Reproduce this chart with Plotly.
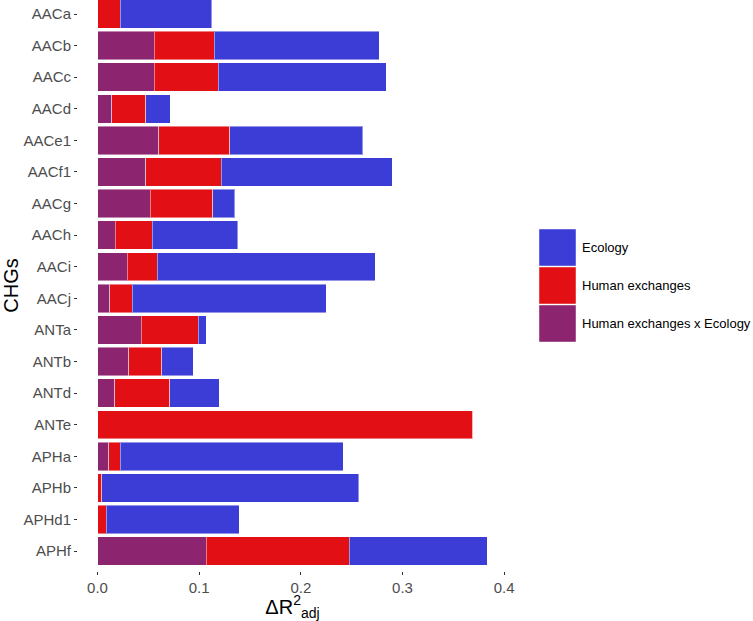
import plotly.graph_objects as go

categories = ["AACa", "AACb", "AACc", "AACd", "AACe1", "AACf1", "AACg", "AACh", "AACi",
              "AACj", "ANTa", "ANTb", "ANTd", "ANTe", "APHa", "APHb", "APHd1", "APHf"]
# segment values (Delta R2 adj)
interaction = [0.0, 0.0556, 0.0556, 0.0141, 0.060, 0.0472, 0.0518, 0.0174, 0.0292,
               0.0118, 0.0429, 0.0308, 0.0167, 0.0, 0.0111, 0.0, 0.0, 0.1068]
human = [0.0226, 0.0594, 0.0634, 0.0334, 0.070, 0.0747, 0.0615, 0.0366, 0.0294,
         0.0226, 0.0564, 0.0324, 0.0544, 0.369, 0.0112, 0.004, 0.0085, 0.1409]
ecology = [0.0897, 0.162, 0.165, 0.0242, 0.131, 0.1681, 0.0217, 0.084, 0.2144,
           0.1906, 0.0077, 0.0308, 0.0485, 0.0, 0.2192, 0.253, 0.131, 0.1359]
series_names = ["Ecology", "Human exchanges", "Human exchanges x Ecology"]
series_colors = ["#3C3CD6", "#E21014", "#8C2470"]
x_ticks = [0.0, 0.1, 0.2, 0.3, 0.4]

fig = go.Figure()
for name, vals, col in [(series_names[2], interaction, series_colors[2]),
                        (series_names[1], human, series_colors[1]),
                        (series_names[0], ecology, series_colors[0])]:
    fig.add_trace(go.Bar(
        y=categories, x=vals, name=name, orientation="h", width=0.9,
        marker=dict(color=col, line=dict(color="rgba(255,255,255,0.45)", width=1)),
        showlegend=False,
    ))

H_PLOT = 571
fig.update_layout(
    width=753, height=621,
    barmode="stack", bargap=0.1,
    plot_bgcolor="white", paper_bgcolor="white",
    margin=dict(l=78, r=246, t=0, b=621 - H_PLOT, autoexpand=False),
    font=dict(family="Liberation Sans, Arial, sans-serif", color="#4D4D4D", size=15),
    xaxis=dict(
        range=[-0.0192, 0.4028], tickvals=x_ticks,
        ticktext=[f"{v:.1f}" for v in x_ticks],
        showgrid=False, zeroline=False, showline=False, automargin=False,
        ticks="outside", ticklen=3, tickcolor="#333333",
        tickfont=dict(size=15, color="#4D4D4D"),
        title=dict(text="ΔR<sup>2</sup><sub>adj</sub>", font=dict(size=20, color="black"), standoff=3),
    ),
    yaxis=dict(
        categoryorder="array", categoryarray=categories,
        range=[17.63, -0.443],
        showgrid=False, zeroline=False, showline=False, automargin=False,
        ticks="outside", ticklen=3, tickcolor="#333333",
        tickfont=dict(size=15, color="#4D4D4D"),
        title=dict(text="CHGs", font=dict(size=20, color="black"), standoff=4),
    ),
)

# legend drawn as keys
plot_w = 753 - 78 - 246
def px_x(p):
    return (p - 78) / plot_w
def px_y(p):
    return (H_PLOT - p) / H_PLOT

key_tops = [229, 267, 305]
for name, col, top in zip(series_names, series_colors, key_tops):
    fig.add_shape(type="rect", xref="paper", yref="paper",
                  x0=px_x(539), x1=px_x(576), y0=px_y(top + 37), y1=px_y(top),
                  fillcolor=col, line=dict(color="rgba(255,255,255,0.45)", width=1))
    fig.add_annotation(xref="paper", yref="paper", x=px_x(580), y=px_y(top + 18.5),
                       text=name, showarrow=False, xanchor="left", yanchor="middle",
                       font=dict(size=13, color="black"))

fig.write_html("out.html", config={"displayModeBar": False},
               post_script="document.body.style.margin='0';document.body.style.padding='0';")
